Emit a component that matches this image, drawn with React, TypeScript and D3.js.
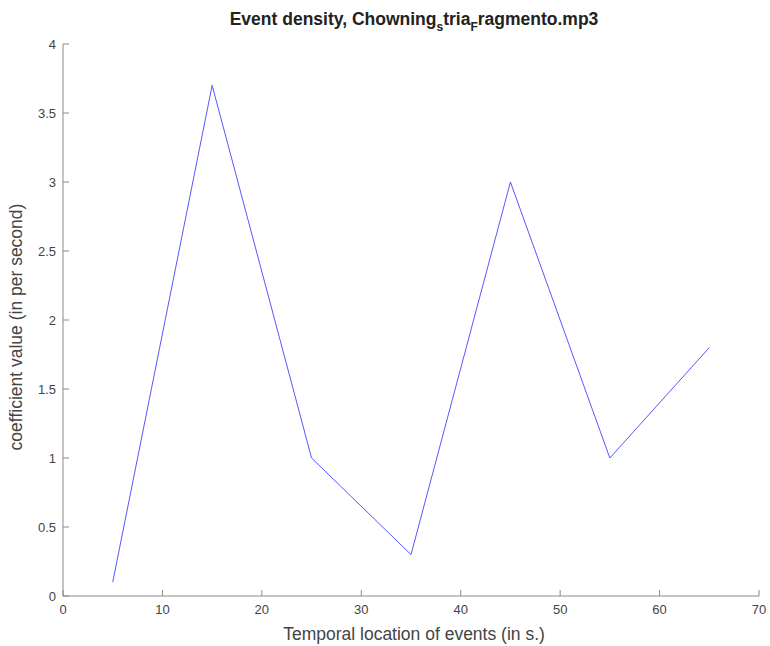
import React from "react";
import * as d3 from "d3";

const times = [5, 15, 25, 35, 45, 55, 65];
const values = [0.1, 3.7, 1.0, 0.3, 3.0, 1.0, 1.8];
const xTicks = [0, 10, 20, 30, 40, 50, 60, 70];
const yTicks = [0, 0.5, 1, 1.5, 2, 2.5, 3, 3.5, 4];

const W = 770;
const H = 646;
const left = 63;
const right = 759;
const top = 44;
const bottom = 596;

export default function App() {
  const x = d3.scaleLinear().domain([0, 70]).range([left, right]);
  const y = d3.scaleLinear().domain([0, 4]).range([bottom, top]);
  const line = d3
    .line<number>()
    .x((_, i) => x(times[i]))
    .y((d) => y(d));
  const font = "Liberation Sans, Arial, Helvetica, sans-serif";
  const axisColor = "#8a8a8a";
  const textColor = "#444";
  return (
    <svg
      width={W}
      height={H}
      style={{ position: "absolute", left: 0, top: 0, background: "#fff" }}
      fontFamily={font}
    >
      <rect x={0} y={0} width={W} height={H} fill="#fff" />
      <line x1={left} y1={bottom} x2={right} y2={bottom} stroke={axisColor} strokeWidth={1} />
      <line x1={left} y1={bottom} x2={left} y2={top} stroke={axisColor} strokeWidth={1} />
      {xTicks.map((t) => (
        <g key={"x" + t}>
          <line x1={x(t)} x2={x(t)} y1={bottom} y2={bottom - 6} stroke={axisColor} />
          <text x={x(t)} y={bottom + 18} textAnchor="middle" fontSize={13} fill={textColor}>
            {t}
          </text>
        </g>
      ))}
      {yTicks.map((t) => (
        <g key={"y" + t}>
          <line x1={left} x2={left + 6} y1={y(t)} y2={y(t)} stroke={axisColor} />
          <text x={left - 7} y={y(t) + 4.5} textAnchor="end" fontSize={13} fill={textColor}>
            {t}
          </text>
        </g>
      ))}
      <path d={line(values) || ""} fill="none" stroke="#4444ff" strokeWidth={0.9} />
      <text x={414} y={25} textAnchor="middle" fontSize={17.5} fontWeight="bold" fill="#222">
        Event density, Chowning
        <tspan fontSize={12} dy={6}>s</tspan>
        <tspan dy={-6}>tria</tspan>
        <tspan fontSize={12} dy={6}>F</tspan>
        <tspan dy={-6}>ragmento.mp3</tspan>
      </text>
      <text x={414} y={640} textAnchor="middle" fontSize={17.5} fill={textColor}>
        Temporal location of events (in s.)
      </text>
      <text
        transform={`translate(22, 327) rotate(-90)`}
        textAnchor="middle"
        fontSize={17.5}
        fill={textColor}
      >
        coefficient value (in per second)
      </text>
    </svg>
  );
}
